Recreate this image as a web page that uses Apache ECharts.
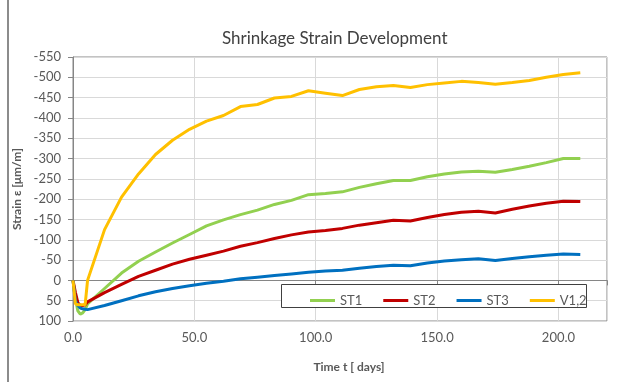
<!DOCTYPE html>
<html>
<head>
<meta charset="utf-8">
<title>Shrinkage Strain Development</title>
<script src="https://cdn.jsdelivr.net/npm/echarts@6/dist/echarts.min.js"></script>
<style>
  html, body { margin: 0; padding: 0; background: #fff; }
  #chart { width: 626px; height: 382px; }
</style>
</head>
<body>
<div id="chart"></div>
<script>
// time axis [days]
const days = [0, 1, 2, 3, 4, 5, 6, 13, 20, 27, 34, 41, 48, 55, 62, 69, 76, 83, 90, 97, 104, 111,
  118, 125, 132, 139, 146, 153, 160, 167, 174, 181, 188, 195, 202, 209]

// strain [um/m], negative = shrinkage
const st1 = [0, 45, 75, 83, 80, 72, 58, 20, -18, -47, -70, -92, -113, -134, -149, -162, -173, -187,
  -197, -211, -214, -218, -229, -238, -246, -246, -255, -262, -267, -269, -266, -273, -281, -290, -300, -300]
const st2 = [0, 30, 55, 62, 62, 60, 53, 30, 10, -10, -25, -40, -52, -62, -72, -84, -93, -103,
  -112, -119, -123, -128, -136, -142, -148, -146, -155, -162, -168, -170, -166, -175, -183, -190, -195, -194]
const st3 = [0, 50, 62, 68, 70, 71, 72, 62, 50, 38, 28, 20, 13, 7, 2, -4, -8, -12,
  -16, -20, -23, -25, -30, -34, -37, -36, -43, -48, -51, -53, -49, -54, -58, -62, -65, -64]
const v12 = [0, 58, 60, 60, 60, 60, 0, -125, -205, -262, -310, -345, -372, -392, -406, -428, -433, -449,
  -453, -467, -461, -455, -470, -477, -480, -475, -482, -486, -490, -487, -483, -487, -492, -500, -507, -511]

const seriesNames = ['ST1', 'ST2', 'ST3', 'V1,2']
const seriesData = [st1, st2, st3, v12]
const colors = ['#92D050', '#C00000', '#0070C0', '#FFC000']

const font = 'Lato, "Open Sans", sans-serif'
const textColor = '#595959'

const chart = echarts.init(document.getElementById('chart'), null, { renderer: 'canvas' })

chart.setOption({
  animation: false,
  textStyle: { fontFamily: font },
  title: {
    text: 'Shrinkage Strain Development',
    left: 217,
    top: 25,
    textStyle: { fontFamily: font, fontSize: 17, fontWeight: 'normal', color: '#404040' }
  },
  graphic: [
    {
      type: 'line',
      shape: { x1: 8, y1: 0, x2: 8, y2: 382 },
      style: { stroke: '#8c8c8c', lineWidth: 2 }
    },
    {
      type: 'rect',
      z: 3,
      shape: { x: 281.5, y: 284.5, width: 305, height: 23 },
      style: { fill: '#fff', stroke: '#404040', lineWidth: 1 }
    }
  ],
  legend: {
    data: seriesNames,
    left: 305,
    top: 289,
    z: 6,
    icon: 'rect',
    itemWidth: 25,
    itemHeight: 3,
    itemGap: 21,
    textStyle: { fontFamily: font, fontSize: 13, color: textColor }
  },
  grid: {
    left: 73,
    right: 19,
    top: 57,
    bottom: 61,
    show: true,
    borderColor: '#868686',
    borderWidth: 1
  },
  xAxis: {
    type: 'value',
    min: 0,
    max: 220,
    interval: 50,
    name: 'Time t [ days]',
    nameLocation: 'middle',
    nameGap: 40,
    nameTextStyle: { fontFamily: font, fontSize: 12, fontWeight: 'bold', color: textColor, padding: [0, 0, 0, 18] },
    axisLine: { lineStyle: { color: '#868686' } },
    axisTick: { show: true, length: 5, lineStyle: { color: '#868686' } },
    axisLabel: {
      fontSize: 13,
      color: textColor,
      margin: 10,
      formatter: v => (v % 50 === 0 ? v.toFixed(1) : '')
    },
    splitLine: { lineStyle: { color: '#d9d9d9' } }
  },
  yAxis: {
    type: 'value',
    inverse: true,
    min: -550,
    max: 100,
    interval: 50,
    name: 'Strain ε [μm/m]',
    nameLocation: 'middle',
    nameGap: 47,
    nameTextStyle: { fontFamily: font, fontSize: 12, fontWeight: 'bold', color: textColor },
    axisLine: { show: true, lineStyle: { color: '#868686' } },
    axisTick: { show: true, length: 5, lineStyle: { color: '#868686' } },
    axisLabel: { fontSize: 13, color: textColor, margin: 12 },
    splitLine: { lineStyle: { color: '#d9d9d9' } }
  },
  series: seriesNames.map((name, i) => ({
    name: name,
    type: 'line',
    showSymbol: false,
    symbol: 'none',
    color: colors[i],
    lineStyle: { width: 3, color: colors[i] },
    data: days.map((d, k) => [d, seriesData[i][k]])
  }))
})
</script>
</body>
</html>
